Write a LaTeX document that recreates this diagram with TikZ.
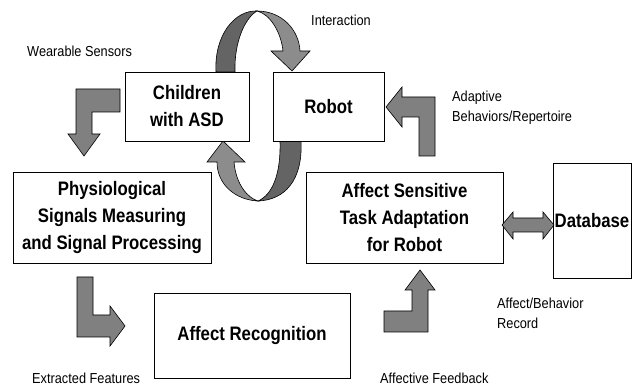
\documentclass[tikz,border=0pt]{standalone}
\usepackage{fontspec}
\setmainfont{Liberation Sans}
\newfontfamily\boxfont[FakeStretch=0.86]{Liberation Sans}
\newfontfamily\lblfont[FakeStretch=0.88]{Liberation Sans}
\begin{document}
\begin{tikzpicture}[x=1pt,y=-1pt,
  box/.style={draw=black,line width=0.8pt,fill=white,inner sep=0pt,align=center,
    font=\boxfont\fontsize{19.5}{27}\selectfont\bfseries},
  lbl/.style={inner sep=0pt,anchor=west,align=left,font=\lblfont\fontsize{14.5}{20}\selectfont},
  blockarrow/.style={draw=black,line width=0.6pt,fill=arrowgray,line join=miter},
  ribbonlight/.style={draw=black,line width=0.6pt,fill=ribbonlite},
  ribbondark/.style={draw=black,line width=0.6pt,fill=ribbondeep}]
\definecolor{arrowgray}{RGB}{128,128,128}
\definecolor{ribbonlite}{RGB}{140,140,140}
\definecolor{ribbondeep}{RGB}{100,100,100}
\useasboundingbox (0,0) rectangle (632,387);

% interaction ribbon, upper half (children -> robot)
\path[ribbondark] (216,72) .. controls (214,35) and (235,10) .. (257,11)
  .. controls (245,18) and (234,42) .. (235,72) -- cycle;
\path[ribbonlight] (257,11) .. controls (282,11) and (299,30) .. (300,51)
  -- (310,51) -- (292,71) -- (271,51) -- (283,51)
  .. controls (281,32) and (270,14) .. (257,11) -- cycle;

% interaction ribbon, lower half (robot -> children)
\path[ribbonlight] (223,141) -- (245,162) -- (234,162)
  .. controls (236,185) and (248,198) .. (258,201)
  .. controls (236,200) and (217,185) .. (217,162) -- (207,162) -- cycle;
\path[ribbondark] (301,141) .. controls (303,180) and (285,200) .. (258,201)
  .. controls (272,195) and (281,175) .. (280,141) -- cycle;

% boxes
\node[box,minimum width=124pt,minimum height=69pt] (child) at (187,106.5) {Children\\with ASD};
\node[box,minimum width=111pt,minimum height=69pt] (robot) at (328.5,106.5) {Robot};
\node[box,minimum width=198pt,minimum height=91pt] (phys) at (112,217.5)
  {Physiological\\Signals Measuring\\and Signal Processing};
\node[box,minimum width=197pt,minimum height=91pt] (task) at (404.5,217.5)
  {Affect Sensitive\\Task Adaptation\\for Robot};
\node[box,minimum width=78pt,minimum height=115pt] (db) at (592,220.5) {Database};
\node[box,minimum width=196pt,minimum height=85pt] (rec) at (252,335.5) {Affect Recognition};

% bent block arrows
\path[blockarrow] (120,89) -- (76,89) -- (76,134) -- (68,134) -- (84,156)
  -- (100,134) -- (92,134) -- (92,112) -- (120,112) -- cycle;
\path[blockarrow] (77,277) -- (93,277) -- (93,315) -- (110,315) -- (110,306)
  -- (125,326) -- (110,346) -- (110,337) -- (77,337) -- cycle;
\path[blockarrow] (435,156) -- (435,97) -- (402,97) -- (402,87) -- (386,107)
  -- (402,127) -- (402,117) -- (419,117) -- (419,156) -- cycle;
\path[blockarrow] (384,332) -- (428,332) -- (428,290) -- (435,290) -- (420,270)
  -- (405,290) -- (412,290) -- (412,311) -- (384,311) -- cycle;

% two-way arrow to the database
\path[blockarrow] (502,225) -- (513,212) -- (513,218) -- (543,218) -- (543,212)
  -- (554,225) -- (543,239) -- (543,232) -- (513,232) -- (513,239) -- cycle;

% labels
\node[lbl] (tInter) at (311,20) {Interaction};
\node[lbl] (tWear) at (27,51) {Wearable Sensors};
\node[lbl] (tAdapt) at (452,108) {Adaptive\\Behaviors/Repertoire};
\node[lbl] (tFeat) at (32,378) {Extracted Features};
\node[lbl] (tRec) at (497,313) {Affect/Behavior\\Record};
\node[lbl] (tFeed) at (380,378) {Affective Feedback};
\end{tikzpicture}
\end{document}
